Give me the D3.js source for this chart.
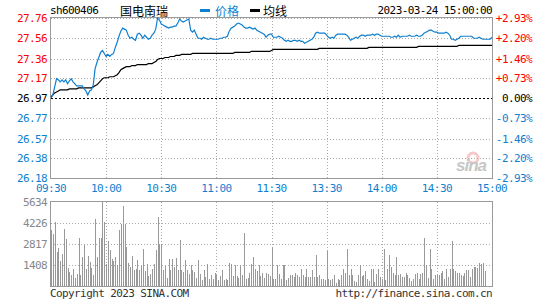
<!DOCTYPE html>
<html>
<head>
<meta charset="utf-8">
<script src="https://cdn.jsdelivr.net/npm/d3@7"></script>
<style>
body { margin: 0; background: #fff; }
svg text { font-family: "DejaVu Sans Mono", "Liberation Mono", monospace; font-size: 11px; letter-spacing: -0.6px; }
</style>
</head>
<body>
<svg id="chart" width="545" height="300"></svg>
<script>
// minute data, 09:30 .. 11:30 / 13:00 .. 15:00 (241 points)
var prevClose = 26.97;

var price = [
26.97,27.00,27.08,27.16,27.15,27.13,27.15,27.13,27.15,27.11,
27.14,27.16,27.13,27.11,27.09,27.09,27.09,27.09,27.06,27.04,
27.00,27.04,27.05,27.10,27.26,27.32,27.37,27.42,27.44,27.41,
27.38,27.40,27.38,27.40,27.41,27.47,27.52,27.58,27.63,27.66,
27.65,27.64,27.59,27.56,27.57,27.55,27.54,27.60,27.61,27.59,
27.56,27.59,27.57,27.55,27.56,27.59,27.61,27.65,27.76,27.74,
27.70,27.69,27.68,27.67,27.66,27.67,27.67,27.68,27.68,27.71,
27.75,27.73,27.72,27.73,27.74,27.75,27.64,27.62,27.64,27.60,
27.56,27.56,27.55,27.57,27.56,27.55,27.55,27.56,27.55,27.55,
27.55,27.55,27.56,27.56,27.57,27.57,27.58,27.63,27.66,27.67,
27.68,27.70,27.71,27.70,27.69,27.67,27.66,27.66,27.67,27.66,
27.65,27.66,27.64,27.63,27.62,27.61,27.60,27.57,27.59,27.60,
27.60,
27.57,27.57,27.57,27.58,27.57,27.56,27.54,27.53,27.54,
27.53,27.53,27.54,27.54,27.53,27.54,27.53,27.53,27.51,27.52,
27.53,27.54,27.55,27.57,27.61,27.62,27.61,27.61,27.61,27.61,
27.59,27.57,27.56,27.57,27.56,27.59,27.60,27.60,27.60,27.60,
27.60,27.59,27.57,27.54,27.55,27.56,27.57,27.56,27.58,27.59,
27.59,27.58,27.59,27.59,27.59,27.60,27.59,27.60,27.60,27.59,
27.58,27.58,27.58,27.58,27.58,27.57,27.57,27.58,27.57,27.59,
27.57,27.58,27.58,27.58,27.58,27.59,27.58,27.58,27.58,27.59,
27.58,27.58,27.59,27.61,27.62,27.63,27.64,27.64,27.63,27.62,
27.62,27.61,27.61,27.61,27.61,27.62,27.61,27.59,27.55,27.55,
27.54,27.55,27.56,27.58,27.58,27.58,27.58,27.58,27.58,27.58,
27.56,27.56,27.56,27.57,27.56,27.55,27.55,27.55,27.55,27.55,
27.57
];

var avgPrice = [
26.98,27.00,27.02,27.03,27.04,27.05,27.05,27.05,27.05,27.05,
27.06,27.06,27.06,27.06,27.06,27.07,27.07,27.07,27.07,27.07,
27.07,27.07,27.07,27.08,27.09,27.10,27.12,27.14,27.16,27.17,
27.17,27.17,27.18,27.18,27.18,27.19,27.20,27.22,27.25,27.26,
27.27,27.28,27.28,27.28,27.29,27.29,27.29,27.30,27.30,27.30,
27.30,27.30,27.30,27.31,27.31,27.31,27.32,27.33,27.35,27.36,
27.36,27.36,27.37,27.37,27.37,27.38,27.38,27.38,27.39,27.39,
27.39,27.40,27.40,27.40,27.40,27.40,27.40,27.41,27.41,27.41,
27.41,27.41,27.41,27.41,27.41,27.41,27.41,27.41,27.41,27.41,
27.41,27.41,27.41,27.41,27.41,27.41,27.41,27.41,27.41,27.41,
27.42,27.42,27.42,27.42,27.42,27.42,27.42,27.42,27.42,27.43,
27.43,27.43,27.43,27.43,27.43,27.43,27.43,27.43,27.43,27.43,
27.44,
27.45,27.45,27.45,27.45,27.45,27.45,27.45,27.45,27.45,
27.45,27.45,27.45,27.45,27.45,27.45,27.45,27.45,27.45,27.45,
27.45,27.45,27.45,27.45,27.45,27.45,27.46,27.46,27.46,27.46,
27.46,27.46,27.46,27.46,27.46,27.46,27.46,27.46,27.46,27.46,
27.46,27.46,27.46,27.46,27.46,27.46,27.46,27.46,27.46,27.46,
27.46,27.46,27.46,27.47,27.47,27.47,27.47,27.47,27.47,27.47,
27.47,27.47,27.47,27.47,27.47,27.47,27.47,27.47,27.47,27.47,
27.47,27.47,27.47,27.47,27.47,27.47,27.47,27.47,27.47,27.47,
27.48,27.48,27.48,27.48,27.48,27.48,27.48,27.48,27.48,27.48,
27.48,27.48,27.48,27.48,27.48,27.48,27.48,27.48,27.48,27.48,
27.48,27.48,27.49,27.49,27.49,27.49,27.49,27.49,27.49,27.49,
27.49,27.49,27.49,27.49,27.49,27.49,27.49,27.49,27.49,27.49,
27.49
];

var volume = [
3734,3510,4293,2281,2571,1655,2124,3846,3175,1230,
939,716,1163,559,827,3242,760,1945,2728,1163,
1990,1610,1230,760,4517,1945,3242,3242,5634,4293,
1453,3019,2393,1834,1677,1945,1386,3734,4181,5344,
4181,2616,1543,1275,1990,1051,1163,1722,1051,1319,
2504,1006,1453,648,783,1163,1500,2393,4629,2840,
2840,1051,1319,559,1834,1096,1834,1275,1901,1096,
3063,1051,939,1722,1096,827,1386,1096,939,559,
1766,827,380,1051,604,1453,492,716,492,872,
716,380,648,1051,425,492,380,1543,1453,648,
1386,648,559,1319,716,3555,492,559,872,1453,
1945,1163,1006,1386,648,872,559,872,827,700,
2616,447,447,1431,827,447,1431,1431,380,537,
716,716,604,894,760,581,1163,760,581,1118,
626,626,1051,581,2102,626,760,492,492,380,
2325,447,402,492,760,224,447,402,760,1118,
894,2504,760,1163,760,358,268,716,1431,671,
716,984,447,313,1118,1163,268,827,1163,581,
447,2460,380,1118,2102,1275,894,760,1945,716,
827,604,581,894,760,537,313,447,827,894,
492,827,894,3220,1431,537,2504,1163,492,716,
760,760,894,984,492,1118,626,1163,2996,1118,
984,894,894,716,671,894,1051,1051,581,1118,
1275,1275,1230,1543,1453,1543,984,0,0,0,
1200
];

var priceTicks = [27.76, 27.56, 27.36, 27.17, 26.97, 26.77, 26.57, 26.38, 26.18];
var pctTicks = ["+2.93%", "+2.20%", "+1.46%", "+0.73%", "0.00%", "-0.73%", "-1.46%", "-2.20%", "-2.93%"];
var timeTicks = [0, 30, 60, 90, 120, 150, 180, 210, 240];
var timeLabels = ["09:30", "10:00", "10:30", "11:00", "11:30", "13:30", "14:00", "14:30", "15:00"];
var volTicks = [5634, 4226, 2817, 1408];

var red = "#ff0000", blue = "#0f7fcf", gray = "#999999";
var svg = d3.select("#chart");

var x = d3.scaleLinear().domain([0, 240]).range([51, 492]);
var y = d3.scaleLinear().domain([26.18, 27.76]).range([178, 18]);
var yv = d3.scaleLinear().domain([0, 5634]).range([286, 202]);

// grids
var grid = svg.append("g").attr("stroke", "#aaaaaa").attr("stroke-dasharray", "1,2").attr("shape-rendering", "crispEdges");
grid.selectAll(".hp").data(priceTicks.filter(d => d != prevClose && d != 26.18))
	.enter().append("line")
	.attr("x1", 51).attr("x2", 492)
	.attr("y1", d => Math.round(y(d)) + 0.5).attr("y2", d => Math.round(y(d)) + 0.5);
grid.selectAll(".vp").data(timeTicks.slice(1, 8))
	.enter().append("line")
	.attr("x1", d => Math.round(x(d)) + 0.5).attr("x2", d => Math.round(x(d)) + 0.5)
	.attr("y1", 18).attr("y2", 178);
grid.selectAll(".hv").data(volTicks.slice(1))
	.enter().append("line")
	.attr("x1", 51).attr("x2", 492)
	.attr("y1", d => Math.round(yv(d)) + 0.5).attr("y2", d => Math.round(yv(d)) + 0.5);
grid.selectAll(".vv").data(timeTicks.slice(1, 8))
	.enter().append("line")
	.attr("x1", d => Math.round(x(d)) + 0.5).attr("x2", d => Math.round(x(d)) + 0.5)
	.attr("y1", 202).attr("y2", 286);

// watermark
var wm = svg.append("g").attr("opacity", 0.55);
wm.append("circle").attr("cx", 473).attr("cy", 158).attr("r", 5).attr("fill", "none").attr("stroke", "#f0a0a0").attr("stroke-width", 3);
wm.append("text").attr("x", 456).attr("y", 171).text("sina")
	.style("font-family", "Liberation Sans").style("font-size", "17px").style("font-weight", "bold").style("font-style", "italic")
	.style("letter-spacing", "-1px").attr("fill", "#999");

// volume bars
svg.append("g").selectAll("rect").data(volume)
	.enter().append("rect")
	.attr("x", (d, i) => Math.round(x(i)))
	.attr("width", 1)
	.attr("y", d => Math.round(yv(d)))
	.attr("height", d => 286 - Math.round(yv(d)))
	.attr("fill", gray);

// prev close line
svg.append("line").attr("x1", 51).attr("x2", 492).attr("y1", Math.round(y(prevClose)) + 0.5).attr("y2", Math.round(y(prevClose)) + 0.5)
	.attr("stroke", "#000").attr("stroke-dasharray", "2,2").attr("shape-rendering", "crispEdges");

// frames
svg.append("rect").attr("x", 50.5).attr("y", 17.5).attr("width", 442).attr("height", 161)
	.attr("fill", "none").attr("stroke", gray).attr("shape-rendering", "crispEdges");
svg.append("rect").attr("x", 50.5).attr("y", 201.5).attr("width", 442).attr("height", 85)
	.attr("fill", "none").attr("stroke", gray).attr("shape-rendering", "crispEdges");

// lines
var line = d3.line().x((d, i) => x(i)).y(d => y(d));
svg.append("path").datum(avgPrice).attr("d", line).attr("fill", "none").attr("stroke", "#000").attr("stroke-width", 1.2);
svg.append("path").datum(price).attr("d", line).attr("fill", "none").attr("stroke", blue).attr("stroke-width", 1.2);

// axis labels
function tickColor(d) { return d > prevClose ? red : (d < prevClose ? blue : "#000"); }
svg.selectAll(".pl").data(priceTicks)
	.enter().append("text")
	.attr("x", 47).attr("y", d => y(d) + 4)
	.attr("text-anchor", "end")
	.attr("fill", tickColor)
	.text(d => d.toFixed(2));
svg.selectAll(".pr").data(pctTicks)
	.enter().append("text")
	.attr("x", 532).attr("y", (d, i) => y(priceTicks[i]) + 4)
	.attr("text-anchor", "end")
	.attr("fill", (d, i) => tickColor(priceTicks[i]))
	.text(d => d);
svg.selectAll(".tl").data(timeTicks)
	.enter().append("text")
	.attr("x", d => x(d)).attr("y", 192)
	.attr("text-anchor", "middle")
	.attr("fill", blue)
	.text((d, i) => timeLabels[i]);
svg.selectAll(".vl").data(volTicks)
	.enter().append("text")
	.attr("x", 47).attr("y", d => yv(d) + 4)
	.attr("text-anchor", "end")
	.attr("fill", "#888")
	.text(d => d);

// header
svg.append("text").attr("x", 50).attr("y", 14).attr("fill", "#000").text("sh600406");
svg.append("text").attr("x", 120).attr("y", 16).attr("fill", "#000")
	.style("font-family", "Noto Sans CJK SC").style("font-size", "12px").style("letter-spacing", "0px").text("国电南瑞");
svg.append("rect").attr("x", 200).attr("y", 9).attr("width", 10).attr("height", 3).attr("fill", blue);
svg.append("text").attr("x", 215).attr("y", 16).attr("fill", blue)
	.style("font-family", "Noto Sans CJK SC").style("font-size", "12px").style("letter-spacing", "0px").text("价格");
svg.append("rect").attr("x", 250).attr("y", 9).attr("width", 10).attr("height", 3).attr("fill", "#000");
svg.append("text").attr("x", 263).attr("y", 16).attr("fill", "#000")
	.style("font-family", "Noto Sans CJK SC").style("font-size", "12px").style("letter-spacing", "0px").text("均线");
svg.append("text").attr("x", 492).attr("y", 14).attr("text-anchor", "end").attr("fill", "#000").text("2023-03-24 15:00:00");

// footer
svg.append("text").attr("x", 50).attr("y", 297).attr("fill", "#333").text("Copyright 2023 SINA.COM");
svg.append("text").attr("x", 492).attr("y", 297).attr("text-anchor", "end").attr("fill", "#333").text("http://finance.sina.com.cn");
</script>
</body>
</html>
